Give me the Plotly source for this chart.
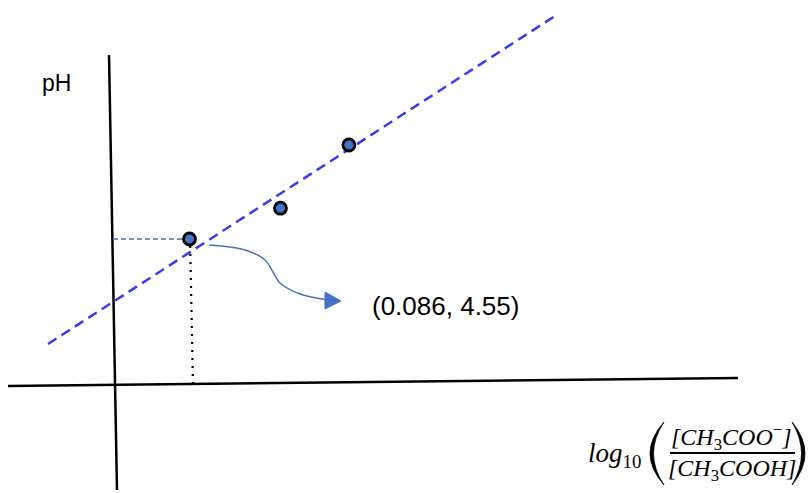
import plotly.graph_objects as go

# ---- data (x = log10 ratio, y = pH) ----
point_x = [0.086, 0.191, 0.270]
point_y = [4.55, 5.51, 7.48]

trend_x = [-0.0773, 0.5079]
trend_y = [1.278, 11.50]

yaxis_line_x = [-0.0069, 0.0023]
yaxis_line_y = [10.28, -3.27]
xaxis_line_x = [-0.1235, 0.7192]
xaxis_line_y = [-0.031, 0.218]

guide_h_x = [-0.0023, 0.0785]
guide_h_y = [4.55, 4.55]
guide_v_x = [0.0868, 0.0900]
guide_v_y = [4.33, 0.03]

arrow_x = [0.1085, 0.1501, 0.1732, 0.1824, 0.1905, 0.2136, 0.2459]
arrow_y = [4.363, 4.207, 3.896, 3.522, 3.179, 2.836, 2.649]
head_x = [0.2424, 0.2609, 0.2424, 0.2424]
head_y = [2.898, 2.618, 2.369, 2.898]

point_label = "(0.086, 4.55)"

W, H = 811, 493
kx = 0.086 / 74.5
ky = 4.55 / 146.0

fig = go.Figure()

fig.add_trace(go.Scatter(x=yaxis_line_x, y=yaxis_line_y, mode="lines",
                         line=dict(color="black", width=2.5), hoverinfo="skip"))
fig.add_trace(go.Scatter(x=xaxis_line_x, y=xaxis_line_y, mode="lines",
                         line=dict(color="black", width=2.5), hoverinfo="skip"))
fig.add_trace(go.Scatter(x=trend_x, y=trend_y, mode="lines",
                         line=dict(color="#3A3AF2", width=2.5, dash="10px,6px")))
fig.add_trace(go.Scatter(x=guide_h_x, y=guide_h_y, mode="lines",
                         line=dict(color="#4472C4", width=1.3, dash="5px,3px")))
fig.add_trace(go.Scatter(x=guide_v_x, y=guide_v_y, mode="lines",
                         line=dict(color="black", width=2.2, dash="2px,6px")))
fig.add_trace(go.Scatter(x=arrow_x, y=arrow_y, mode="lines",
                         line=dict(color="#4472C4", width=1.5, shape="spline")))
fig.add_trace(go.Scatter(x=head_x, y=head_y, mode="lines", fill="toself",
                         fillcolor="#4472C4", line=dict(color="#4472C4", width=1)))
fig.add_trace(go.Scatter(x=point_x, y=point_y, mode="markers",
                         marker=dict(size=12, color="#4472C4",
                                     line=dict(color="black", width=2.8))))

def px(x):
    return x / W

def py(y):
    return 1 - y / H

def paren_path(x_end, x_outer, x_inner, y0, y1):
    # crescent shaped bracket, thick in the middle, thin at the ends
    cxo = 2 * x_outer - x_end
    cxi = 2 * x_inner - x_end
    ym = (y0 + y1) / 2
    return (f"M {px(x_end)},{py(y0)} Q {px(cxo)},{py(ym)} {px(x_end)},{py(y1)} "
            f"Q {px(cxi)},{py(ym)} {px(x_end)},{py(y0)} Z")

sans = "Liberation Sans, Arial, sans-serif"
serif = "Liberation Serif, Times New Roman, serif"
ann = []
ann.append(dict(text="pH", x=px(40), y=py(83), xanchor="left", yanchor="middle",
                font=dict(family=sans, size=23, color="black")))
ann.append(dict(text=point_label, x=px(370), y=py(306), xanchor="left", yanchor="middle",
                font=dict(family=sans, size=26, color="black")))
ann.append(dict(text="<i>log</i><sub>10</sub>", x=px(643), y=py(455), xanchor="right",
                yanchor="middle", font=dict(family=serif, size=27, color="black")))
ann.append(dict(text="<i>[CH</i><sub>3</sub><i>COO</i><sup>−</sup><i>]</i>", x=px(731),
                y=py(437), xanchor="center", yanchor="middle",
                font=dict(family=serif, size=24, color="black")))
ann.append(dict(text="<i>[CH</i><sub>3</sub><i>COOH]</i>", x=px(732),
                y=py(470), xanchor="center", yanchor="middle",
                font=dict(family=serif, size=24, color="black")))
for a in ann:
    a.update(xref="paper", yref="paper", showarrow=False)

shapes = [
    dict(type="line", xref="paper", yref="paper",
         x0=px(670), x1=px(795), y0=py(453), y1=py(453),
         line=dict(color="black", width=2)),
    dict(type="path", xref="paper", yref="paper",
         path=paren_path(664, 650, 653.5, 422, 485),
         fillcolor="black", line=dict(color="black", width=0.8)),
    dict(type="path", xref="paper", yref="paper",
         path=paren_path(792, 805, 801.5, 422, 485),
         fillcolor="black", line=dict(color="black", width=0.8)),
]

fig.update_layout(
    width=W, height=H, autosize=False,
    margin=dict(l=0, r=0, t=0, b=0),
    paper_bgcolor="white", plot_bgcolor="white",
    showlegend=False,
    xaxis=dict(visible=False, range=[-115 * kx, 696 * kx], fixedrange=True),
    yaxis=dict(visible=False, range=[-108 * ky, 385 * ky], fixedrange=True),
    annotations=ann,
    shapes=shapes,
)

fig.write_html("out.html",
               config={"displayModeBar": False},
               post_script="document.body.style.margin='0px';"
                           "document.body.style.overflow='hidden';")
